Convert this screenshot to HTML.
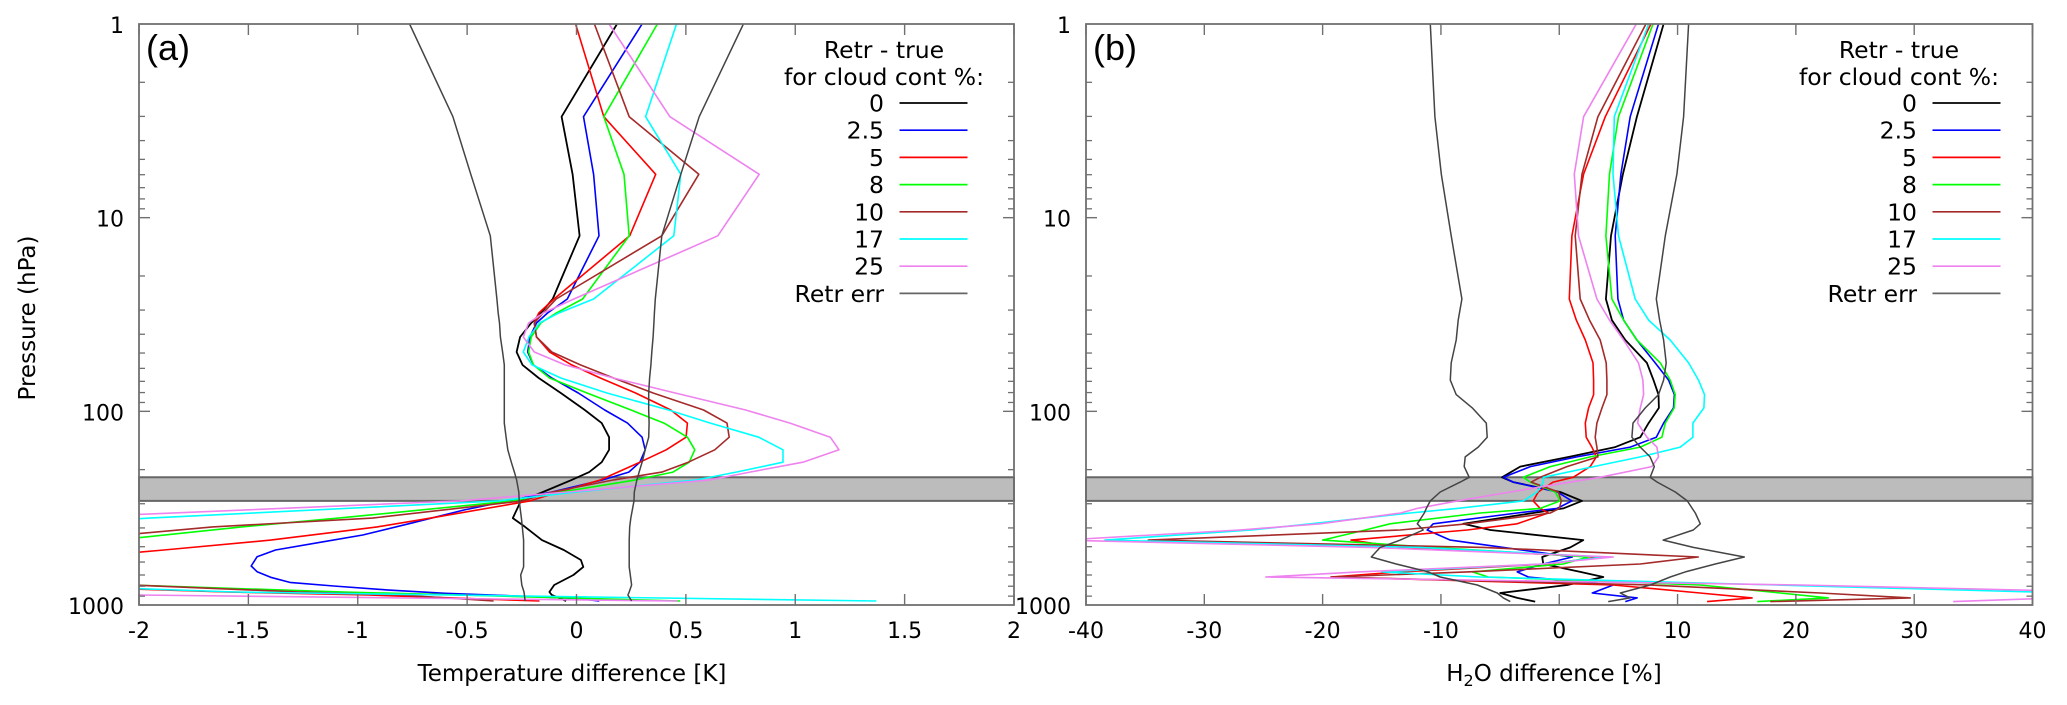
<!DOCTYPE html>
<html lang="en">
<head>
<meta charset="utf-8">
<title>Retrieval minus true profiles: temperature and H2O</title>
<style>
html,body{margin:0;padding:0;background:#fff;}
svg{display:block;}
text{font-family:"DejaVu Sans","Liberation Sans",sans-serif;fill:#000;}
</style>
</head>
<body>
<svg id="figure" xmlns="http://www.w3.org/2000/svg" width="2067" height="705" viewBox="0 0 2067 705">
<defs>
<clipPath id="clip-a"><rect x="139" y="24" width="875" height="581"/></clipPath>
<clipPath id="clip-b"><rect x="1086" y="24" width="946.5" height="581"/></clipPath>
</defs>
</svg>
<script>
/* ---------- shared labels ---------- */
const seriesNames = ['0', '2.5', '5', '8', '10', '17', '25'];
const seriesColors = ['#000000', '#0000ff', '#ff0000', '#00ff00', '#a52a2a', '#00ffff', '#ee82ee'];
const pressureTickValues = [1, 10, 100, 1000];
const legendTitleLines = ['Retr - true', 'for cloud cont %:'];
const errName = 'Retr err';

/* ---------- panel (a): temperature difference [K] ---------- */
const tempTicks = [-2, -1.5, -1, -0.5, 0, 0.5, 1, 1.5, 2];
const tempPressure = [1,3.01,5.97,12.4,26.3,31.1,35,41.3,49.4,57.6,67.3,80.4,98.4,115,136,158,183,206,226,261,290,356,395,462,520,586,636,700,788,857,888,953];
const temp0 = [0.185,-0.068,-0.018,0.014,-0.109,-0.163,-0.207,-0.258,-0.274,-0.247,-0.173,-0.072,0.038,0.115,0.149,0.149,0.115,0.058,-0.022,-0.153,-0.254,-0.291,-0.235,-0.158,-0.058,0.02,0.031,-0.014,-0.102,-0.124,-0.113,-0.047];
const temp2p5Pressure = [1,3.01,5.97,12.4,26.3,31.1,35,41.3,49.4,57.6,67.3,80.4,98.4,115,136,158,183,206,226,261,290,323,378,435,471,520,563,629,673,719,764,798,836,870,899,924,953];
const temp2p5 = [0.300,0.032,0.078,0.103,-0.042,-0.133,-0.183,-0.213,-0.223,-0.197,-0.113,0.008,0.129,0.233,0.300,0.314,0.290,0.239,0.12,-0.113,-0.313,-0.512,-0.756,-0.977,-1.155,-1.376,-1.46,-1.487,-1.46,-1.398,-1.310,-1.110,-0.867,-0.601,-0.268,-0.002,0.104];
const temp5 = [-0.004,0.125,0.362,0.243,-0.103,-0.173,-0.193,-0.183,-0.123,-0.022,0.109,0.270,0.431,0.507,0.501,0.410,0.290,0.189,0.11,-0.08,-0.213,-0.667,-0.911,-1.398,-1.886,-2.4,-3,-3,-2.6,-1.6,-0.95,-0.169];
const temp8 = [0.370,0.125,0.217,0.241,0.028,-0.093,-0.163,-0.207,-0.219,-0.197,-0.123,0.048,0.249,0.400,0.507,0.541,0.515,0.441,0.27,-0.07,-0.291,-1.088,-1.531,-2.107,-2.5,-2.8,-2.9,-2.7,-2.05,-1.066,-0.534,0.474];
const temp10 = [0.082,0.241,0.559,0.390,-0.093,-0.153,-0.193,-0.183,-0.113,0.018,0.169,0.350,0.581,0.688,0.698,0.632,0.511,0.390,0.17,-0.11,-0.246,-0.933,-1.664,-2.33,-2.7,-3,-3,-2.7,-2.04,-1.265,-0.8,-0.379];
const temp17 = [0.457,0.316,0.477,0.445,0.078,-0.082,-0.169,-0.217,-0.243,-0.203,-0.072,0.139,0.421,0.612,0.833,0.944,0.944,0.73,0.55,0.0,-0.357,-1.952,-2.7,-3.3,-3.5,-3.5,-3.5,-3.3,-2.48,-1.562,-0.585,1.371];
const temp25 = [0.149,0.427,0.835,0.646,-0.012,-0.153,-0.219,-0.243,-0.193,-0.052,0.169,0.451,0.773,0.976,1.16,1.2,1.035,0.793,0.61,-0.04,-0.534,-2.4,-3,-3.5,-3.5,-3.5,-3.5,-3.5,-3.2,-2.8,-1.997,0.463];
const tempErrLow = [-0.763,-0.565,-0.483,-0.394,-0.364,-0.358,-0.352,-0.348,-0.338,-0.330,-0.330,-0.330,-0.330,-0.330,-0.322,-0.314,-0.298,-0.284,-0.274,-0.264,-0.262,-0.252,-0.248,-0.242,-0.242,-0.242,-0.242,-0.255,-0.25,-0.24,-0.238,-0.235];
const tempErrHigh = [0.763,0.561,0.477,0.390,0.360,0.356,0.354,0.350,0.344,0.340,0.334,0.330,0.330,0.332,0.330,0.314,0.300,0.286,0.276,0.264,0.263,0.248,0.243,0.241,0.241,0.241,0.241,0.246,0.252,0.241,0.235,0.252];

/* ---------- panel (b): H2O difference [%] ---------- */
const waterTicks = [-40, -30, -20, -10, 0, 10, 20, 30, 40];
const waterPressure = [1,3.01,5.96,12.4,26.3,33.8,42.8,56.2,69,82,96,115,136,153,172,193,219,232,261,290,317,335,381,410,462,504,565,614,675,717,788,867,919,960];
const water0 = [8.82,6.56,5.38,4.37,3.94,4.45,5.58,7.41,7.97,8.39,8.42,7.55,6.85,4.73,0.82,-3.30,-4.84,-3.89,0.08,1.92,0.34,-2.2,-8.11,-5.83,2.03,0.93,-1.44,-1.35,1.78,3.72,0.68,-4.99,-3.55,-2.03];
const water2p5 = [8.39,6.0,5.21,4.73,4.96,5.44,6.56,8.11,9.24,9.73,9.66,8.82,8.2,6.0,1.49,-2.45,-4.71,-3.89,-0.17,1.07,-0.17,-3.55,-10.65,-11.16,-9.21,-4.73,1.10,-1.35,-3.55,-2.62,4.56,2.79,6.59,5.58];
const water5 = [7.75,3.89,2.06,1.07,0.85,1.44,2.2,2.85,2.9,2.9,2.48,2.2,2.28,2.76,3.13,2.62,1.18,-0.51,-1.78,-2.20,-1.61,-0.93,-3.55,-7.78,-17.6,-13.4,3.47,-1.01,-13.4,-19.3,4.56,11.9,16.3,12.5];
const water8 = [7.92,5.01,4.25,3.94,4.45,5.44,6.56,8.54,9.38,9.8,9.72,8.96,8.68,6.85,2.62,-0.76,-3.04,-2.45,-0.34,0.08,-1.61,-6.68,-14.3,-16.4,-20,-10.65,2.45,0.34,-7.35,-6.0,11.92,18.68,22.74,16.74];
const water10 = [7.32,3.27,1.92,1.35,1.77,2.56,3.46,3.97,4.03,4.03,3.61,3.18,3.04,3.18,3.27,0.65,-1.61,-2.37,-0.08,0.17,0,-0.76,-7.78,-13.44,-34.74,-6.42,11.75,6.85,-7.78,-19.27,7.69,22.06,29.67,17.84];
const water17 = [7.55,4.65,4.54,5.01,6.42,7.55,9.38,10.93,11.77,12.28,12.23,11.3,11.3,10.23,6.85,2.9,-1.35,-1.35,-1.86,-3.04,-8.6,-12.6,-21,-26,-38.4,-11.8,3.87,-1.35,-15,-6.7,18.3,43.2,54,60];
const water25 = [6.51,2.06,1.27,1.63,3.18,4.25,5.44,6.7,7.07,7.13,6.85,6.62,7.41,8.25,8.39,7.83,3.44,0.93,-4.14,-8.6,-12,-13.4,-20.2,-27,-42,-16,4.56,-1.35,-17,-24.8,20.4,50,42.3,33.3];
const waterErrLow = [-10.9,-10.51,-9.97,-9.13,-8.23,-8.54,-8.71,-9.13,-9.21,-8.71,-7.35,-6.17,-6.09,-6.85,-7.95,-8.03,-7.61,-8.37,-10.06,-10.9,-11.24,-11.41,-12,-11.5,-13.44,-15.13,-15.89,-13.78,-11.07,-10.06,-6.93,-5.24,-4.73,-4.14];
const waterErrHigh = [10.93,10.51,9.94,8.96,8.2,8.48,8.82,9.04,8.82,8.39,7.27,6.23,6.14,6.85,7.68,8.03,7.69,8.28,9.81,10.82,11.24,11.5,11.92,11.33,8.79,11.33,15.64,13.19,10.65,9.38,7.69,5.16,6.0,4.14];

/* ---------- cloud-layer pressure band ---------- */
const bandPressure = [219, 290];

/* ---------- drawing ---------- */
const svg = document.getElementById('figure');
const NS = 'http://www.w3.org/2000/svg';
const plotTop = 24;
const plotBottom = 605;
const axisGrey = '#707070';
const tickFont = 22;
const legendFont = 23.5;
const titleFont = 23;

function yScale(p) {
  return plotTop + (plotBottom - plotTop) * Math.log10(p) / 3;
}
function linearScale(domainMin, domainMax, left, right) {
  return function (v) {
    return left + (v - domainMin) / (domainMax - domainMin) * (right - left);
  };
}
function make(tag, attrs, parent) {
  const el = document.createElementNS(NS, tag);
  for (const k in attrs) el.setAttribute(k, attrs[k]);
  (parent || svg).appendChild(el);
  return el;
}
function line(x1, y1, x2, y2, stroke, width, name, parent) {
  const el = make('line', {x1: x1, y1: y1, x2: x2, y2: y2, stroke: stroke, 'stroke-width': width}, parent);
  
  
  return el;
}
function label(x, y, str, size, anchor, name, parent) {
  const el = make('text', {x: x, y: y, 'font-size': size, 'text-anchor': anchor}, parent);
  el.textContent = str;
  
  
  return el;
}
function drawProfile(values, pressures, xScale, color, width, name, clipId, parent) {
  const pts = values.map(function (v, i) {
    return xScale(v).toFixed(1) + ',' + yScale(pressures[i]).toFixed(1);
  }).join(' ');
  const el = make('polyline', {points: pts, fill: 'none', stroke: color, 'stroke-width': width, 'stroke-linejoin': 'round', 'clip-path': 'url(#' + clipId + ')'}, parent);
  
  
  return el;
}

function drawPanel(cfg) {
  const g = make('g', {});
  
  
  const x = linearScale(cfg.ticks[0], cfg.ticks[cfg.ticks.length - 1], cfg.left, cfg.right);

  /* cloud band behind the curves */
  const band = make('rect', {x: cfg.left, y: yScale(bandPressure[0]), width: cfg.right - cfg.left, height: yScale(bandPressure[1]) - yScale(bandPressure[0]), fill: '#bcbcbc', stroke: '#666666', 'stroke-width': 2}, g);
  
  

  /* curves */
  cfg.series.forEach(function (vals, i) {
    drawProfile(vals, cfg.seriesPressure[i], x, seriesColors[i], i === 0 ? 1.8 : 1.6, cfg.key + '-series-cloud-' + seriesNames[i].replace('.', 'p'), cfg.clip, g);
  });
  drawProfile(cfg.errLow, cfg.pressure, x, '#444444', 1.5, cfg.key + '-retr-err-low', cfg.clip, g);
  drawProfile(cfg.errHigh, cfg.pressure, x, '#444444', 1.5, cfg.key + '-retr-err-high', cfg.clip, g);

  /* frame */
  const frame = make('rect', {x: cfg.left, y: plotTop, width: cfg.right - cfg.left, height: plotBottom - plotTop, fill: 'none', stroke: axisGrey, 'stroke-width': 1.8}, g);
  
  

  /* x ticks and labels */
  cfg.ticks.forEach(function (t) {
    const px = x(t);
    line(px, plotBottom, px, plotBottom - 11, axisGrey, 1.4, cfg.key + '-x-tick-bottom', g);
    line(px, plotTop, px, plotTop + 11, axisGrey, 1.4, cfg.key + '-x-tick-top', g);
    label(px, 638, String(t), tickFont, 'middle', cfg.key + '-x-tick-label', g);
  });

  /* y ticks and labels */
  pressureTickValues.forEach(function (p, idx) {
    const py = yScale(p);
    label(cfg.left - 15, py + 9, String(p), tickFont, 'end', cfg.key + '-y-tick-label', g);
    if (idx === pressureTickValues.length - 1) return;
    if (idx > 0) {
      line(cfg.left, py, cfg.left + 11, py, axisGrey, 1.4, cfg.key + '-y-major-tick-left', g);
      line(cfg.right, py, cfg.right - 11, py, axisGrey, 1.4, cfg.key + '-y-major-tick-right', g);
    }
    for (let m = 2; m <= 9; m++) {
      const my = yScale(p * m);
      line(cfg.left, my, cfg.left + 6, my, axisGrey, 1.3, cfg.key + '-y-minor-tick-left', g);
      line(cfg.right, my, cfg.right - 6, my, axisGrey, 1.3, cfg.key + '-y-minor-tick-right', g);
    }
  });

  /* panel letter */
  const letter = label(cfg.left + 7, 60, cfg.letter, 36, 'start', cfg.key + '-panel-label', g);
  letter.setAttribute('style', 'font-family:"Liberation Sans",sans-serif');

  /* legend */
  const legend = make('g', {}, g);
  
  
  const dx = cfg.legendShift;
  const tx = cfg.legendTitleX;
  label(tx, 58, legendTitleLines[0], legendFont, 'middle', cfg.key + '-legend-title-line-1', legend);
  label(tx, 85, legendTitleLines[1], legendFont, 'middle', cfg.key + '-legend-title-line-2', legend);
  const rowStep = 27.2;
  seriesNames.forEach(function (n, i) {
    const ry = 103 + i * rowStep;
    label(884 + dx, ry + 8.5, n, legendFont, 'end', cfg.key + '-legend-label-' + n.replace('.', 'p'), legend);
    line(899.5 + dx, ry, 967.5 + dx, ry, seriesColors[i], 1.7, cfg.key + '-legend-swatch-' + n.replace('.', 'p'), legend);
  });
  const ey = 103 + 7 * rowStep;
  label(884 + dx, ey + 8.5, errName, legendFont, 'end', cfg.key + '-legend-label-retr-err', legend);
  line(899.5 + dx, ey, 967.5 + dx, ey, '#666666', 1.7, cfg.key + '-legend-swatch-retr-err', legend);
  return g;
}

drawPanel({
  name: 'temperature-panel', key: 'temp', letter: '(a)', clip: 'clip-a',
  left: 139, right: 1014, ticks: tempTicks, pressure: tempPressure,
  series: [temp0, temp2p5, temp5, temp8, temp10, temp17, temp25],
  seriesPressure: [tempPressure, temp2p5Pressure, tempPressure, tempPressure, tempPressure, tempPressure, tempPressure],
  errLow: tempErrLow, errHigh: tempErrHigh, legendShift: 0, legendTitleX: 884
});
drawPanel({
  name: 'water-panel', key: 'water', letter: '(b)', clip: 'clip-b',
  left: 1086, right: 2032.5, ticks: waterTicks, pressure: waterPressure,
  series: [water0, water2p5, water5, water8, water10, water17, water25],
  seriesPressure: [waterPressure, waterPressure, waterPressure, waterPressure, waterPressure, waterPressure, waterPressure],
  errLow: waterErrLow, errHigh: waterErrHigh, legendShift: 1033, legendTitleX: 1899
});

/* axis titles */
label(572, 681, 'Temperature difference [K]', titleFont, 'middle', 'temperature-x-axis-title');
const waterTitle = label(1554, 681, 'H', titleFont, 'middle', 'water-x-axis-title');
const sub = make('tspan', {'font-size': 16, dy: 5}, waterTitle);
sub.textContent = '2';


const rest = make('tspan', {dy: -5}, waterTitle);
rest.textContent = 'O difference [%]';


const yTitle = label(0, 0, 'Pressure (hPa)', titleFont, 'middle', 'pressure-y-axis-title');
yTitle.setAttribute('transform', 'translate(35 318) rotate(-90)');
</script>
</body>
</html>
